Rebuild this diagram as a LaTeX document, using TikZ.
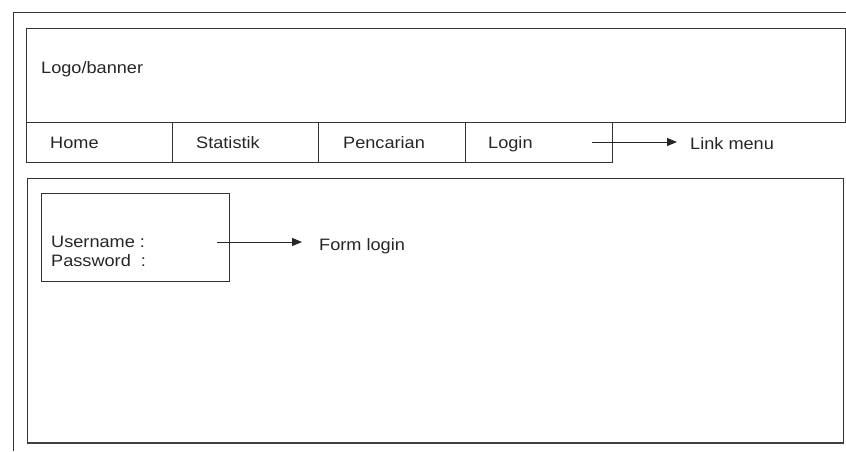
\documentclass[tikz,border=0pt]{standalone}
\usepackage{fontspec}
\setmainfont[FakeStretch=1.1]{Liberation Sans}
\usetikzlibrary{arrows.meta}
\begin{document}
\begin{tikzpicture}[x=1pt,y=-1pt,
  frame/.style={draw=black!80,line width=1pt},
  boxn/.style={frame,anchor=north west,inner sep=0pt,outer sep=0pt},
  lbl/.style={anchor=base west,inner sep=0pt,font=\fontsize{16.5}{19}\selectfont,text=black!85},
  arr/.style={draw=black!85,line width=1pt,-{Triangle[length=10pt,width=8pt]}}]
\useasboundingbox (0,0) rectangle (846,451);
% outer frame (partly visible)
\draw[frame] (13,451) -- (13,12) -- (846,12);
% banner
\node[boxn,minimum width=819pt,minimum height=94pt] (banner) at (26,28) {};
\node[lbl] (logo) at (41,73) {Logo/banner};
% menu cells
\node[boxn,minimum width=146pt,minimum height=40pt] (home) at (26,122) {};
\node[boxn,minimum width=146pt,minimum height=40pt] (stat) at (172,122) {};
\node[boxn,minimum width=147pt,minimum height=40pt] (cari) at (318,122) {};
\node[boxn,minimum width=147pt,minimum height=40pt] (login) at (465,122) {};
\node[lbl] (thome) at (50,148) {Home};
\node[lbl] (tstat) at (196,148) {Statistik};
\node[lbl] (tcari) at (343,148) {Pencarian};
\node[lbl] (tlogin) at (488,148) {Login};
\node[lbl] (lm) at (690,149) {Link menu};
\coordinate (lmA) at (592,142);
\draw[arr,shorten >=13pt] (lmA) -- (lmA -| lm.west);
% content
\node[boxn,minimum width=816pt,minimum height=265pt] (content) at (27,178) {};
\draw[black!75,line width=1.4pt] (content.south west) -- (content.south east);
% form
\node[boxn,minimum width=188pt,minimum height=88pt] (form) at (41,193) {};
\node[lbl] (user) at (51,247) {Username :};
\node[lbl] (pass) at (51,266) {Password\ \ :};
\node[lbl] (fl) at (319,250) {Form login};
\coordinate (flA) at (217,242);
\draw[arr,shorten >=17pt] (flA) -- (flA -| fl.west);
\end{tikzpicture}
\end{document}
